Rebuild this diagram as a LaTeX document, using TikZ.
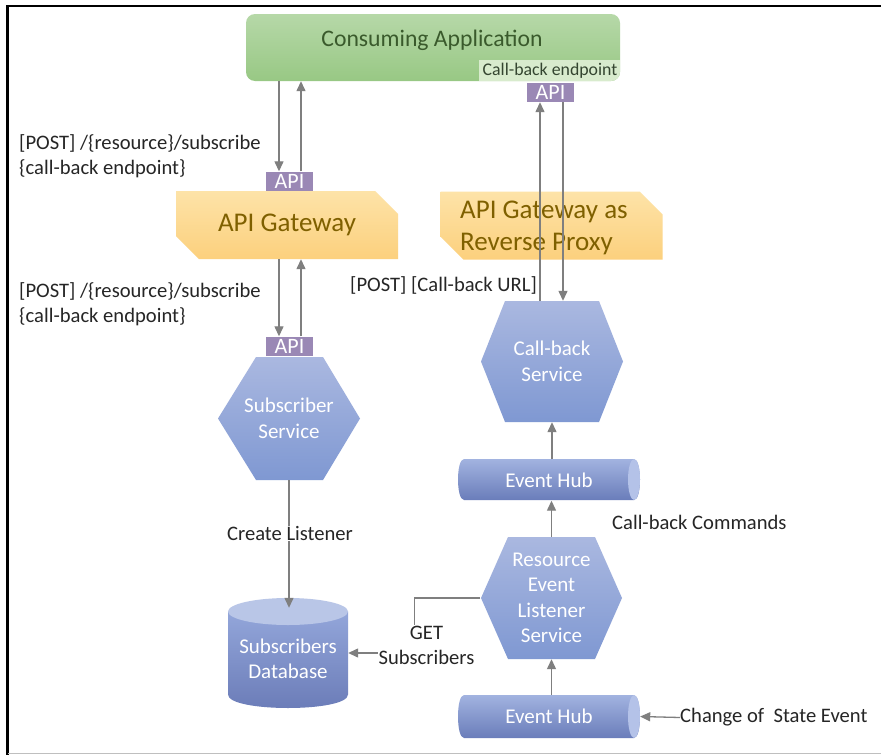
\documentclass[tikz,border=0pt]{standalone}
\usepackage{fontspec}
\setmainfont{Carlito}
\usetikzlibrary{arrows.meta,shapes.misc,calc}
\newcommand{\myfs}[2]{\fontsize{#1}{#2}\selectfont}
\definecolor{appT}{HTML}{B6D8A8}
\definecolor{appB}{HTML}{98C884}
\definecolor{appTxt}{HTML}{3A5A2C}
\definecolor{cbeFill}{HTML}{D8EBCD}
\definecolor{cbeTxt}{HTML}{344530}
\definecolor{apiFill}{HTML}{9A88B5}
\definecolor{gwT}{HTML}{FDE3A8}
\definecolor{gwB}{HTML}{FCD07D}
\definecolor{gwTxt}{HTML}{7F6000}
\definecolor{hexT}{HTML}{AAB8E0}
\definecolor{hexB}{HTML}{7F98D2}
\definecolor{ehT}{HTML}{A2B3E0}
\definecolor{ehM}{HTML}{8CA1D7}
\definecolor{ehB}{HTML}{6A7DBA}
\definecolor{ehCap}{HTML}{B4C2E8}
\definecolor{dbT}{HTML}{93A6DA}
\definecolor{dbB}{HTML}{6A7BB7}
\definecolor{dbLid}{HTML}{B9C6E7}
\definecolor{arrGray}{HTML}{7F7F7F}
\definecolor{lblTxt}{HTML}{262626}
\begin{document}
\begin{tikzpicture}[x=1pt,y=-1pt,
  arr/.style={draw=arrGray, line width=1.3pt, -{Triangle[length=10pt,width=9pt]}},
  apibox/.style={fill=apiFill, text=white, font=\myfs{22}{22}, inner sep=0pt,
    minimum width=47pt, minimum height=19pt, text height=14pt, text depth=0pt},
  gwbox/.style={chamfered rectangle, chamfered rectangle corners={north east, south west},
    chamfered rectangle xsep=12pt, chamfered rectangle ysep=12pt,
    top color=gwT, bottom color=gwB, draw=none, text=gwTxt, font=\myfs{27}{32},
    minimum width=222pt, minimum height=68pt, inner sep=0pt},
  hexname/.style={minimum width=142pt, minimum height=123pt, inner sep=0pt,
    text=white, font=\myfs{21}{25.5}, align=center},
  ehname/.style={minimum width=182pt, minimum height=41pt, inner sep=0pt,
    text=white, font=\myfs{21}{25}},
  lbl/.style={text=lblTxt, font=\myfs{20.6}{25}, inner sep=1pt}
]
\useasboundingbox (0,0) rectangle (881,755);
\fill[white] (0,0) rectangle (881,755);
% frame
\draw[line width=2.5pt, black] (7.5,755) -- (7.5,6) -- (881,6);
\draw[line width=1.2pt, black!25] (8,753.5) -- (881,753.5);

% consuming application
\node[rounded corners=9pt, top color=appT, bottom color=appB, minimum width=374pt,
  minimum height=67pt, inner sep=0pt] (app) at (433,47.5) {};
\begin{scope}
  \clip[rounded corners=9pt] (246,14) rectangle (620,81);
  \fill[cbeFill] (479,60) rectangle (620,81);
\end{scope}
\node[text=appTxt, font=\myfs{23.7}{27}] (apptxt) at (432,40.5) {Consuming Application};
\node[text=cbeTxt, font=\myfs{17.8}{20}, inner sep=0pt] (cbe) at (550,71) {Call-back endpoint};
\node[apibox] (apir) at (550.5,92.5) {API};

% gateways
\node[gwbox] (gw) at (287,225) {API Gateway};
\node[gwbox] (proxy) at (551.5,225.5) {\phantom{API Gateway}};
\node[text=gwTxt, font=\myfs{27}{32}, align=left, anchor=west, inner sep=0pt] (proxytxt) at (460,228) {API Gateway as\\Reverse Proxy};
\node[apibox] (apil1) at (289.5,181) {API};
\node[apibox] (apil2) at (289.5,346) {API};

% hexagons
\shade[top color=hexT, bottom color=hexB] (256,357) -- (323,357) -- (360,418.5) -- (323,480) -- (256,480) -- (218,418.5) -- cycle;
\node[hexname] (sub) at (289,418.5) {Subscriber\\Service};
\shade[top color=hexT, bottom color=hexB] (505,301) -- (599,301) -- (623,361.5) -- (599,422) -- (505,422) -- (481,361.5) -- cycle;
\node[hexname, minimum height=121pt] (cb) at (552,361.5) {Call-back\\Service};
\shade[top color=hexT, bottom color=hexB] (508,537) -- (595,537) -- (622,598) -- (595,659) -- (508,659) -- (481,598) -- cycle;
\node[hexname, minimum height=122pt] (res) at (551.5,598) {Resource\\Event\\Listener\\Service};

% event hubs
\shade[top color=ehT, middle color=ehM, bottom color=ehB] (464,459) -- (634,459) .. controls (642,459) and (642,500) .. (634,500) -- (464,500) .. controls (456,500) and (456,459) .. (464,459) -- cycle;
\fill[ehCap] (634,479.5) ellipse [x radius=6pt, y radius=20.5pt];
\node[ehname] (eh1) at (549,480) {Event Hub};
\shade[top color=ehT, middle color=ehM, bottom color=ehB] (464,695) -- (634,695) .. controls (642,695) and (642,738) .. (634,738) -- (464,738) .. controls (456,738) and (456,695) .. (464,695) -- cycle;
\fill[ehCap] (634,716.5) ellipse [x radius=6pt, y radius=21.5pt];
\node[ehname, minimum height=43pt] (eh2) at (549,716.5) {Event Hub};

% database
\shade[top color=dbT, bottom color=dbB] (228,611.5) -- (228,694.5) .. controls (228,712.5) and (348,712.5) .. (348,694.5) -- (348,611.5) -- cycle;
\fill[dbLid] (288,611.5) ellipse [x radius=60pt, y radius=13.5pt];
\node[minimum width=120pt, minimum height=110pt, inner sep=0pt, text=white,
  font=\myfs{21}{25}, align=center] (db) at (288,653) {\\[2pt]Subscribers\\Database};

% connectors
\draw[arr] ([xshift=-10.5pt]apil1.north |- app.south) -- ([xshift=-10.5pt]apil1.north);
\draw[arr] ([xshift=11.5pt]apil1.north) -- ([xshift=11.5pt]apil1.north |- app.south);
\draw[arr] ([xshift=-10.5pt]apil2.north |- gw.south) -- ([xshift=-10.5pt]apil2.north);
\draw[arr] ([xshift=11.5pt]apil2.north) -- ([xshift=11.5pt]apil2.north |- gw.south);
\draw[arr] ([xshift=-10.5pt]apir.south |- cb.north) -- ([xshift=-10.5pt]apir.south);
\draw[arr] ([xshift=12.5pt]apir.south) -- ([xshift=12.5pt]apir.south |- cb.north);
\draw[arr] (eh1.north -| cb.south) -- (cb.south);
\draw[arr] (res.north) -- (res.north |- eh1.south);
\draw[arr] (eh2.north -| res.south) -- (res.south);
\draw[arr] (sub.south) -- ([yshift=-10pt]db.north -| sub.south);
\draw[arr] (res.west) -- ++(-66,0) |- (db.east);

% labels
\node[lbl, align=left, anchor=west] (l1) at (18,156) {[POST] /\{resource\}/subscribe\\\{call-back endpoint\}};
\node[lbl, align=left, anchor=west] (l2) at (18,304) {[POST] /\{resource\}/subscribe\\\{call-back endpoint\}};
\node[lbl, anchor=west] (l3) at (349,285.5) {[POST] [Call-back URL]};
\node[lbl, fill=white, inner sep=0.5pt] (l4) at (290,533.5) {Create Listener};
\node[lbl, align=center, fill=white, inner sep=0.5pt] (l5) at (426.5,645) {GET\\Subscribers};
\node[lbl, anchor=west] (l6) at (611,522.5) {Call-back Commands};
\node[lbl, anchor=west, inner sep=0pt] (cose) at (680,717.5) {Change of \ State Event};
\draw[arr] (cose.west) -- (eh2.east);
\end{tikzpicture}
\end{document}
